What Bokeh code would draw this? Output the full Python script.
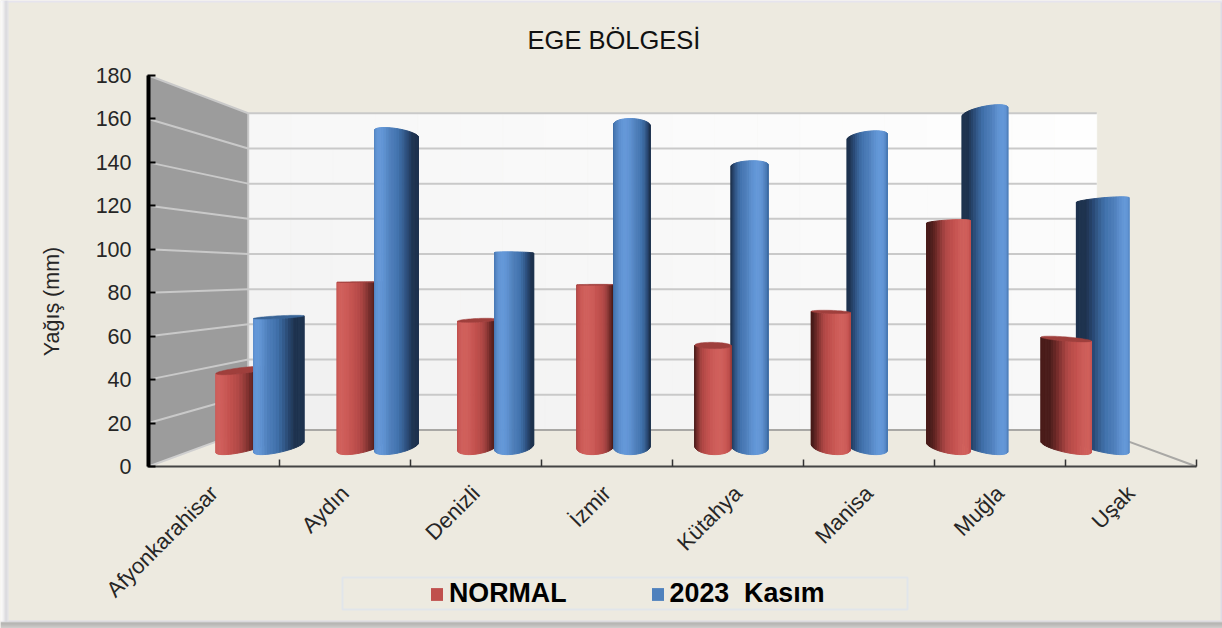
from math import pi
import numpy as np
from bokeh.embed import file_html
from bokeh.resources import INLINE
from bokeh.plotting import figure
from bokeh.core.properties import value
from bokeh.models import FixedTicker, Legend, LegendItem, Range1d

categories = ["Afyonkarahisar", "Aydın", "Denizli", "İzmir", "Kütahya", "Manisa", "Muğla", "Uşak"]
normal = [39.2, 84.5, 64.9, 83.1, 52, 69.2, 115.3, 55.3]
kasim = [66.5, 160.5, 99.5, 164.9, 144.2, 158.9, 171.7, 126.5]
series_names = ["NORMAL", "2023  Kasım"]
y_ticks = list(range(0, 181, 20))
chart_title = "EGE BÖLGESİ"
y_title = "Yağış (mm)"

BEIGE = "#edeae0"
RED_STOPS = ["#4a1c1a", "#6e2a28", "#b04846", "#c4524f", "#d0605c"]
BLUE_STOPS = ["#1e334f", "#2a4a75", "#4172ac", "#5080bc", "#6498d8"]
STOP_POS = [-0.1, 0.2, 0.6, 0.85, 1.0]

OX, OY, W, H = 0, 0, 1222, 628
PX0, PX8, PY0, PY180 = 148.0, 1196.0, 466.0, 75.0
KX = (PX8 - PX0) / 8
KY = (PY0 - PY180) / 180


def dx(px):
    return (px - PX0) / KX


def dy(py):
    return (PY0 - py) / KY


VX, VY = 4.0, 88.6      # vanishing point, in data units
A = 0.235               # depth foreshortening
ZC, RX, RZ = 0.49, 0.155, 0.21
LIGHT_TURN = np.radians(15)


def proj(x, v, z):
    s = 1.0 / (1.0 + A * np.asarray(z, dtype=float))
    return VX + (np.asarray(x, dtype=float) - VX) * s, VY + (np.asarray(v, dtype=float) - VY) * s


def hex2rgb(h):
    return np.array([int(h[i:i + 2], 16) for i in (1, 3, 5)], dtype=float)


def shade(stops, t):
    rgb = np.array([hex2rgb(c) for c in stops])
    return "#%02x%02x%02x" % tuple(int(round(np.interp(t, STOP_POS, rgb[:, k]))) for k in range(3))


def cylinder(xc, val, stops):
    th = np.linspace(-pi, pi, 721)[:-1]
    sx, _ = proj(xc + RX * np.cos(th), 0, ZC - RZ * np.sin(th))
    t0, t1 = th[np.argmin(sx)], th[np.argmax(sx)]
    if t1 > t0:
        t1 -= 2 * pi
    arc = np.linspace(t0, t1, 27)
    peak = pi / 2 - LIGHT_TURN * np.sign(xc - VX)
    px, py, col = [], [], []
    for a, b in zip(arc[:-1], arc[1:]):
        xa, za = xc + RX * np.cos(a), ZC - RZ * np.sin(a)
        xb, zb = xc + RX * np.cos(b), ZC - RZ * np.sin(b)
        x0, y0 = proj([xa, xb], 0, [za, zb])
        x1, y1 = proj([xb, xa], val, [zb, za])
        px.append(list(x0) + list(x1))
        py.append(list(y0) + list(y1))
        col.append(shade(stops, np.cos((a + b) / 2 - peak)))
    top = None
    if val < VY:
        ring = np.linspace(0, 2 * pi, 61)
        top = proj(xc + RX * np.cos(ring), val, ZC - RZ * np.sin(ring))
    return px, py, col, top


p = figure(width=W, height=H, output_backend="svg", toolbar_location=None,
           x_range=Range1d(dx(OX), dx(OX + W)), y_range=Range1d(dy(OY + H), dy(OY)),
           min_border=0, background_fill_color=BEIGE, border_fill_color=BEIGE,
           outline_line_color=None)
p.grid.visible = False


def box(l, r, t, b, c, **kw):
    return p.quad(left=[dx(l)], right=[dx(r)], top=[dy(t)], bottom=[dy(b)], fill_color=c,
                  line_color=kw.get("line", None), line_width=kw.get("lw", 1))


# panel edges and drop shadow
for i, c in enumerate(["#dcdae4", "#cfcdd6", "#a6a6a6", "#a4a4a4", "#acacac", "#b4b4b4", "#bcbcbc", "#c4c4c4"]):
    box(0, 1222, 620 + i, 621 + i, c)
box(1220, 1222, 0, 620, "#dddbe6")
box(0, 1222, 0, 2, "#e6e4ee")
for i, c in enumerate(["#ffffff", "#fcfcfd", "#f6f6f8", "#ececf0", "#e0e0e6", "#d6d5de", "#d8d7e0", "#e2e1e8"]):
    box(i, i + 1, 0, 621, c)

# walls
xs = np.linspace(0, 8, 21)
ys = np.linspace(0, 180, 10)
gl, gr, gb, gt, gc = [], [], [], [], []
for i in range(20):
    for j in range(9):
        d = (xs[i] / 8 + ys[j] / 180) / 2
        g = int(240 + 15 * d ** 0.8)
        l_, b_ = proj(xs[i], ys[j], 1)
        r_, t_ = proj(xs[i + 1], ys[j + 1], 1)
        gl.append(float(l_)); gr.append(float(r_)); gb.append(float(b_)); gt.append(float(t_))
        gc.append("#%02x%02x%02x" % (g, g, g))
p.quad(left=gl, right=gr, bottom=gb, top=gt, fill_color=gc, line_color=gc, line_width=0.5)

wx, wy = proj([0, 0, 0, 0], [0, 180, 180, 0], [0, 0, 1, 1])
p.patch(list(wx), list(wy), fill_color="#9c9c9c", line_color=None)

gxs, gys = [], []
for t in y_ticks:
    x_, y_ = proj([0, 0, 8], [t, t, t], [0, 1, 1])
    gxs.append(list(x_)); gys.append(list(y_))
p.multi_line(gxs[1:], gys[1:], line_color="#c9c9c9", line_width=2)
x_, y_ = proj([0, 0], [0, 180], [1, 1])
p.line(list(x_), list(y_), line_color="#c9c9c9", line_width=2)
x_, y_ = proj([0, 0], [0, 0], [0, 1])
p.line(list(x_), list(y_), line_color="#cfcfcf", line_width=2)
x_, y_ = proj([0, 8, 8], [0, 0, 0], [1, 1, 0])
p.line(list(x_), list(y_), line_color="#a9a8a5", line_width=2)

# cylinders
for i in range(len(categories)):
    c = i + 0.5
    bars = [(c - RX, normal[i], RED_STOPS, "#9f3f3c"), (c + RX, kasim[i], BLUE_STOPS, "#396497")]
    if c > VX:
        bars = bars[::-1]
    for xc, v, stops, topc in bars:
        px, py, col, top = cylinder(xc, v, stops)
        p.patches(px, py, fill_color=col, line_color=col, line_width=1)
        if top is not None:
            p.patch(list(top[0]), list(top[1]), fill_color=topc, line_color=topc, line_width=0.5)

# axes, fixed at the plot box's corner
ax = p.yaxis[0]
ax.fixed_location = 0
ax.bounds = (0, 180)
ax.ticker = FixedTicker(ticks=y_ticks)
ax.axis_line_color = "#000000"
ax.axis_line_width = 4
ax.major_tick_line_color = "#000000"
ax.major_tick_line_width = 2
ax.major_tick_in = 7
ax.major_tick_out = 1
ax.minor_tick_line_color = None
ax.major_label_text_font = "Liberation Sans"
ax.major_label_text_font_size = "21.5px"
ax.major_label_text_color = "#262626"
ax.major_label_standoff = 16

bx = p.xaxis[0]
centers = [i + 0.5 for i in range(len(categories))]
bx.fixed_location = 0
bx.bounds = (0, 8)
bx.ticker = FixedTicker(ticks=centers, minor_ticks=list(range(len(categories) + 1)))
bx.major_label_overrides = {c: n for c, n in zip(centers, categories)}
bx.major_label_orientation = pi / 4
bx.major_label_text_font = "Liberation Sans"
bx.major_label_text_font_size = "22px"
bx.major_label_text_color = "#262626"
bx.major_label_standoff = 17
bx.major_tick_line_color = None
bx.axis_line_color = "#444444"
bx.axis_line_width = 2
bx.minor_tick_line_color = "#333333"
bx.minor_tick_line_width = 1.5
bx.minor_tick_in = 7
bx.minor_tick_out = 0

# title and value-axis name
p.text(x=[dx(613.5)], y=[dy(39)], text=[chart_title], text_align="center", text_baseline="middle",
       text_font=value("Liberation Sans"), text_font_size="25.5px", text_color="#111111")
p.text(x=[dx(51)], y=[dy(301)], text=[y_title], angle=pi / 2, text_align="center", text_baseline="middle",
       text_font=value("Liberation Sans"), text_font_size="21.5px", text_color="#262626")

# legend
box(342, 907, 577, 609, BEIGE, line="#e1e5ea", lw=2)
r1 = p.quad(left=[0], right=[0], top=[0], bottom=[0], fill_color="#c0504d", line_color=None)
r2 = p.quad(left=[0], right=[0], top=[0], bottom=[0], fill_color="#4f81bd", line_color=None)
leg = Legend(items=[LegendItem(label=series_names[0], renderers=[r1]),
                    LegendItem(label=series_names[1], renderers=[r2])],
             orientation="horizontal", location=(429 - OX, OY + H - 609), padding=0, margin=0,
             spacing=83, glyph_width=15, glyph_height=16, label_standoff=5,
             label_text_font="Liberation Sans", label_text_font_size="26.8px",
             label_text_font_style="bold", label_text_color="#000000",
             background_fill_alpha=0, border_line_color=None)
p.add_layout(leg, "center")

open("out.html", "w").write(file_html(p, INLINE))
